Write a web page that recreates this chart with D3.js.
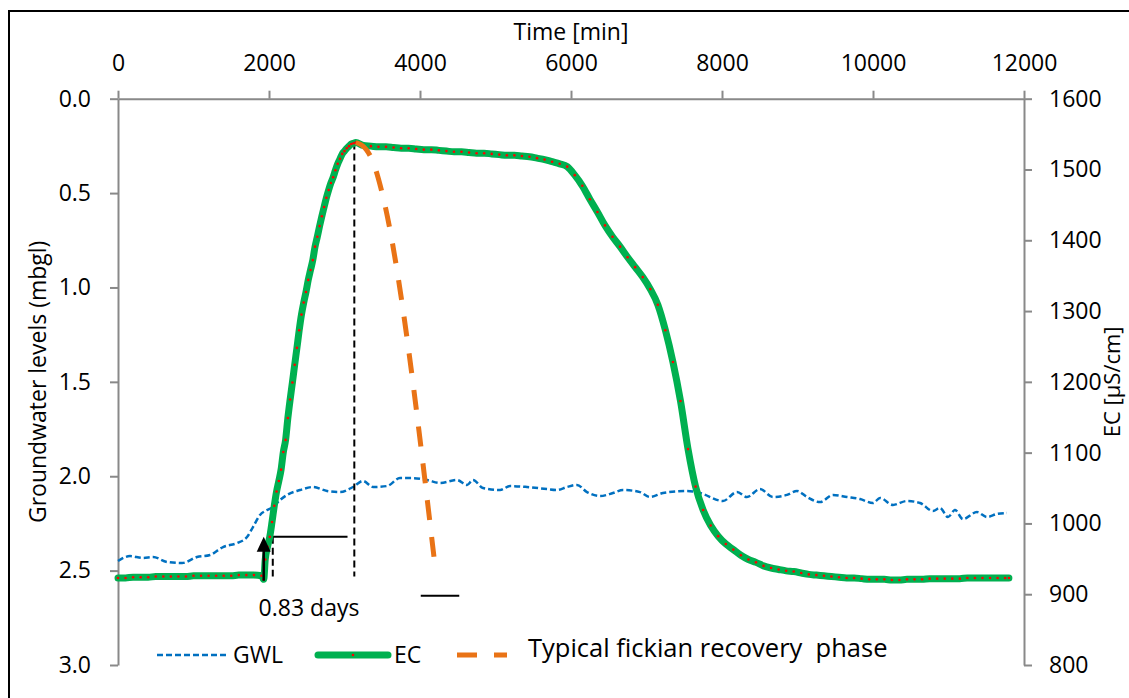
<!DOCTYPE html>
<html><head><meta charset="utf-8">
<script src="https://cdn.jsdelivr.net/npm/d3@7/dist/d3.min.js"></script>
<style>
body{margin:0;background:#fff}
text{font-family:"Open Sans",sans-serif;fill:#000}
</style>
</head><body>
<svg id="c" width="1129" height="698"></svg>
<script>
// ---- data ----
const timeTicks = [0, 2000, 4000, 6000, 8000, 10000, 12000];
const gwlTicks = [0, 0.5, 1.0, 1.5, 2.0, 2.5, 3.0];
const ecTicks = [800, 900, 1000, 1100, 1200, 1300, 1400, 1500, 1600];

// EC [µS/cm] vs time [min]
const ecTime = [0,100,200,300,400,500,600,700,800,900,1000,1100,1200,1300,1400,1500,1600,1700,1800,1900,1930,
  1950,1980,2010,2040,2070,2100,2130,2160,2190,2220,2250,2280,2310,2340,2370,2400,2430,2460,2490,2520,2550,2580,
  2610,2640,2670,2700,2730,2760,2790,2820,2850,2880,2910,2940,2970,3000,3030,3060,3090,3120,3150,
  3250,3350,3450,3550,3650,3750,3850,3950,4050,4150,4250,4350,4450,4550,4650,4750,4850,4950,5050,5150,5250,
  5350,5450,5550,5650,5750,5850,5950,6050,6150,6250,6350,6450,6550,6650,6750,6850,6950,7050,7150,7250,7350,
  7450,7550,7650,7750,7850,7950,8050,8150,8250,8350,8450,8550,8650,8750,8850,8950,9050,9150,9250,9350,9450,
  9550,9650,9750,9850,9950,10050,10150,10250,10350,10450,10550,10650,10750,10850,10950,11050,11150,11250,
  11350,11450,11550,11650,11750,11800];
const ecValue = [923,923,924,924,924,925,925,925,925,925,926,926,926,926,926,926,927,927,927,926,921,
  949,967,981,1002,1025,1045,1060,1076,1101,1118,1149,1175,1199,1224,1248,1273,1295,1312,1327,1344,1358,1372,
  1391,1405,1420,1434,1447,1460,1471,1481,1489,1499,1508,1515,1522,1526,1530,1533,1536,1537,1538,
  1534,1533,1532,1532,1531,1530,1530,1529,1528,1528,1527,1526,1525,1525,1524,1523,1523,1522,1521,1520,1520,
  1519,1518,1516,1514,1511,1508,1504,1492,1477,1458,1440,1421,1405,1391,1376,1362,1348,1331,1309,1273,1228,
  1173,1105,1052,1019,997,982,971,963,955,949,945,940,937,935,933,932,930,928,927,926,925,
  924,923,923,922,921,921,921,920,920,921,921,921,922,922,922,922,922,923,
  923,923,923,923,923,923];

// Groundwater level [mbgl] vs time [min]
const gwlTime = [0,159,331,464,649,848,1046,1219,1391,1576,1709,1788,1881,1974,2053,2146,2238,2411,2583,2768,
  2940,3113,3245,3377,3563,3735,3907,4093,4265,4490,4623,4702,4834,5060,5192,5417,5682,5815,5947,6079,6212,
  6384,6556,6689,6914,7046,7219,7536,7709,8013,8199,8331,8503,8675,8861,8993,9126,9298,9470,9656,9828,10000,
  10093,10265,10450,10623,10795,10887,10993,11086,11192,11377,11510,11642,11775];
const gwlValue = [2.449,2.423,2.433,2.428,2.454,2.460,2.428,2.417,2.375,2.354,2.322,2.269,2.205,2.179,2.163,2.126,
  2.099,2.073,2.057,2.078,2.084,2.057,2.025,2.057,2.052,2.010,2.010,2.020,2.036,2.020,2.046,2.020,2.062,2.073,
  2.052,2.057,2.068,2.073,2.057,2.046,2.084,2.105,2.089,2.073,2.084,2.110,2.089,2.078,2.089,2.131,2.084,2.110,
  2.068,2.110,2.099,2.078,2.110,2.137,2.099,2.110,2.121,2.142,2.115,2.152,2.131,2.142,2.184,2.168,2.216,2.179,
  2.227,2.190,2.216,2.200,2.195];

// Typical fickian recovery phase (EC)
const recTime = [3150, 3220, 3290, 3360, 3430, 3500, 4200];
const recValue = [1538, 1535, 1528, 1515, 1494, 1466, 939];

// annotation values
const tStart = 1930, tPeak = 3130, tLag = 2050;
const ecArrowBase = 919, ecArrowTip = 981, ecBase = 925;
const markEnd = {t0: 4010, t1: 4520, ec: 898};
const lagLabel = "0.83 days";

// ---- layout ----
const svg = d3.select("#c");
svg.append("rect").attr("width",1129).attr("height",698).attr("fill","#fff");
svg.append("rect").attr("x",9).attr("y",11).attr("width",1300).attr("height",900)
  .attr("fill","none").attr("stroke","#000").attr("stroke-width",2);

const L = 118, R = 1024, T = 98.7, B = 665;
const x = d3.scaleLinear().domain([0,12000]).range([L,R]);
const yL = d3.scaleLinear().domain([0,3]).range([T,B]);
const yR = d3.scaleLinear().domain([800,1600]).range([B,T]);

const axisCol = "#898989";
function styleAxis(g){
  g.selectAll("path.domain").attr("stroke",axisCol).attr("stroke-width",2);
  g.selectAll(".tick line").attr("stroke",axisCol).attr("stroke-width",2);
  g.selectAll(".tick text").attr("font-family","Open Sans").attr("font-size",23).attr("fill","#000");
}
const gTop = svg.append("g").attr("transform",`translate(0,${T})`)
  .call(d3.axisTop(x).tickValues(timeTicks).tickSizeInner(8).tickSizeOuter(0).tickPadding(20).tickFormat(d3.format("d")));
styleAxis(gTop);
const gLeft = svg.append("g").attr("transform",`translate(${L},0)`)
  .call(d3.axisLeft(yL).tickValues(gwlTicks).tickSizeInner(8).tickSizeOuter(0).tickPadding(19).tickFormat(d3.format(".1f")));
styleAxis(gLeft);
const gRight = svg.append("g").attr("transform",`translate(${R},0)`)
  .call(d3.axisRight(yR).tickValues(ecTicks).tickSizeInner(8).tickSizeOuter(0).tickPadding(17).tickFormat(d3.format("d")));
styleAxis(gRight);

svg.append("text").attr("x",(L+R)/2).attr("y",40).attr("text-anchor","middle").attr("font-size",23).text("Time [min]");
svg.append("text").attr("transform",`translate(46,${(T+B)/2}) rotate(-90)`).attr("text-anchor","middle")
  .attr("font-size",23).text("Groundwater levels (mbgl)");
svg.append("text").attr("transform",`translate(1120,${(T+B)/2}) rotate(-90)`).attr("text-anchor","middle")
  .attr("font-size",22).text("EC [µS/cm]");

// ---- series ----
const gwlData = gwlTime.map((t,i)=>({t, v: gwlValue[i]}));
const ecData = ecTime.map((t,i)=>({t, v: ecValue[i]}));
const recData = recTime.map((t,i)=>({t, v: recValue[i]}));

svg.append("path").datum(gwlData)
  .attr("d", d3.line().x(d=>x(d.t)).y(d=>yL(d.v)).curve(d3.curveMonotoneX))
  .attr("fill","none").attr("stroke","#0070C0").attr("stroke-width",2.5).attr("stroke-dasharray","6,3");

// annotations (under EC)
const blk = svg.append("g");
blk.append("line").attr("x1",x(tPeak)).attr("x2",x(tPeak)).attr("y1",yR(1538)).attr("y2",yR(ecBase))
  .attr("stroke","#000").attr("stroke-width",2).attr("stroke-dasharray","7,4");
blk.append("line").attr("x1",x(tLag)).attr("x2",x(tLag)).attr("y1",yR(ecArrowTip)).attr("y2",yR(ecBase))
  .attr("stroke","#000").attr("stroke-width",2).attr("stroke-dasharray","7,4");
blk.append("line").attr("x1",x(tLag)).attr("x2",x(3040)).attr("y1",yR(ecArrowTip)).attr("y2",yR(ecArrowTip))
  .attr("stroke","#000").attr("stroke-width",2);

svg.append("path").datum(ecData)
  .attr("d", d3.line().x(d=>x(d.t)).y(d=>yR(d.v)).curve(d3.curveMonotoneX))
  .attr("fill","none").attr("stroke","#00B050").attr("stroke-width",7).attr("stroke-linejoin","round").attr("stroke-linecap","round");
svg.append("g").selectAll("circle").data(ecData).join("circle")
  .attr("cx",d=>x(d.t)).attr("cy",d=>yR(d.v)).attr("r",1.3).attr("fill","#FF0000");

svg.append("path").datum(recData)
  .attr("d", d3.line().x(d=>x(d.t)).y(d=>yR(d.v)).curve(d3.curveMonotoneX))
  .attr("fill","none").attr("stroke","#E97316").attr("stroke-width",5).attr("stroke-dasharray","20,17");

// arrow
const ax = x(tStart), ayB = yR(ecArrowBase), ayT = yR(ecArrowTip);
svg.append("line").attr("x1",ax).attr("x2",ax).attr("y1",ayB).attr("y2",ayT+12).attr("stroke","#000").attr("stroke-width",2.5);
svg.append("path").attr("d",`M${ax},${ayT} L${ax-7},${ayT+15} L${ax+7},${ayT+15} Z`).attr("fill","#000");
svg.append("line").attr("x1",x(markEnd.t0)).attr("x2",x(markEnd.t1)).attr("y1",yR(markEnd.ec)).attr("y2",yR(markEnd.ec))
  .attr("stroke","#000").attr("stroke-width",2);
svg.append("text").attr("x",x((tStart+tPeak)/2)).attr("y",616).attr("text-anchor","middle").attr("font-size",23).text(lagLabel);

// ---- legend ----
const lg = svg.append("g");
const ly = 655;
lg.append("line").attr("x1",157).attr("x2",227).attr("y1",ly).attr("y2",ly)
  .attr("stroke","#0070C0").attr("stroke-width",2.5).attr("stroke-dasharray","6,3");
lg.append("text").attr("x",233).attr("y",ly+8).attr("font-size",23).text("GWL");
lg.append("line").attr("x1",318).attr("x2",388).attr("y1",ly).attr("y2",ly)
  .attr("stroke","#00B050").attr("stroke-width",7).attr("stroke-linecap","round");
lg.append("circle").attr("cx",353).attr("cy",ly).attr("r",1.3).attr("fill","#FF0000");
lg.append("text").attr("x",394).attr("y",ly+8).attr("font-size",23).text("EC");
lg.append("line").attr("x1",457).attr("x2",507).attr("y1",ly).attr("y2",ly)
  .attr("stroke","#E97316").attr("stroke-width",5).attr("stroke-dasharray","20,17");
lg.append("text").attr("x",528).attr("y",ly+2).attr("font-size",25.5).attr("xml:space","preserve").style("white-space","pre")
  .text("Typical fickian recovery  phase");
</script>
</body></html>
